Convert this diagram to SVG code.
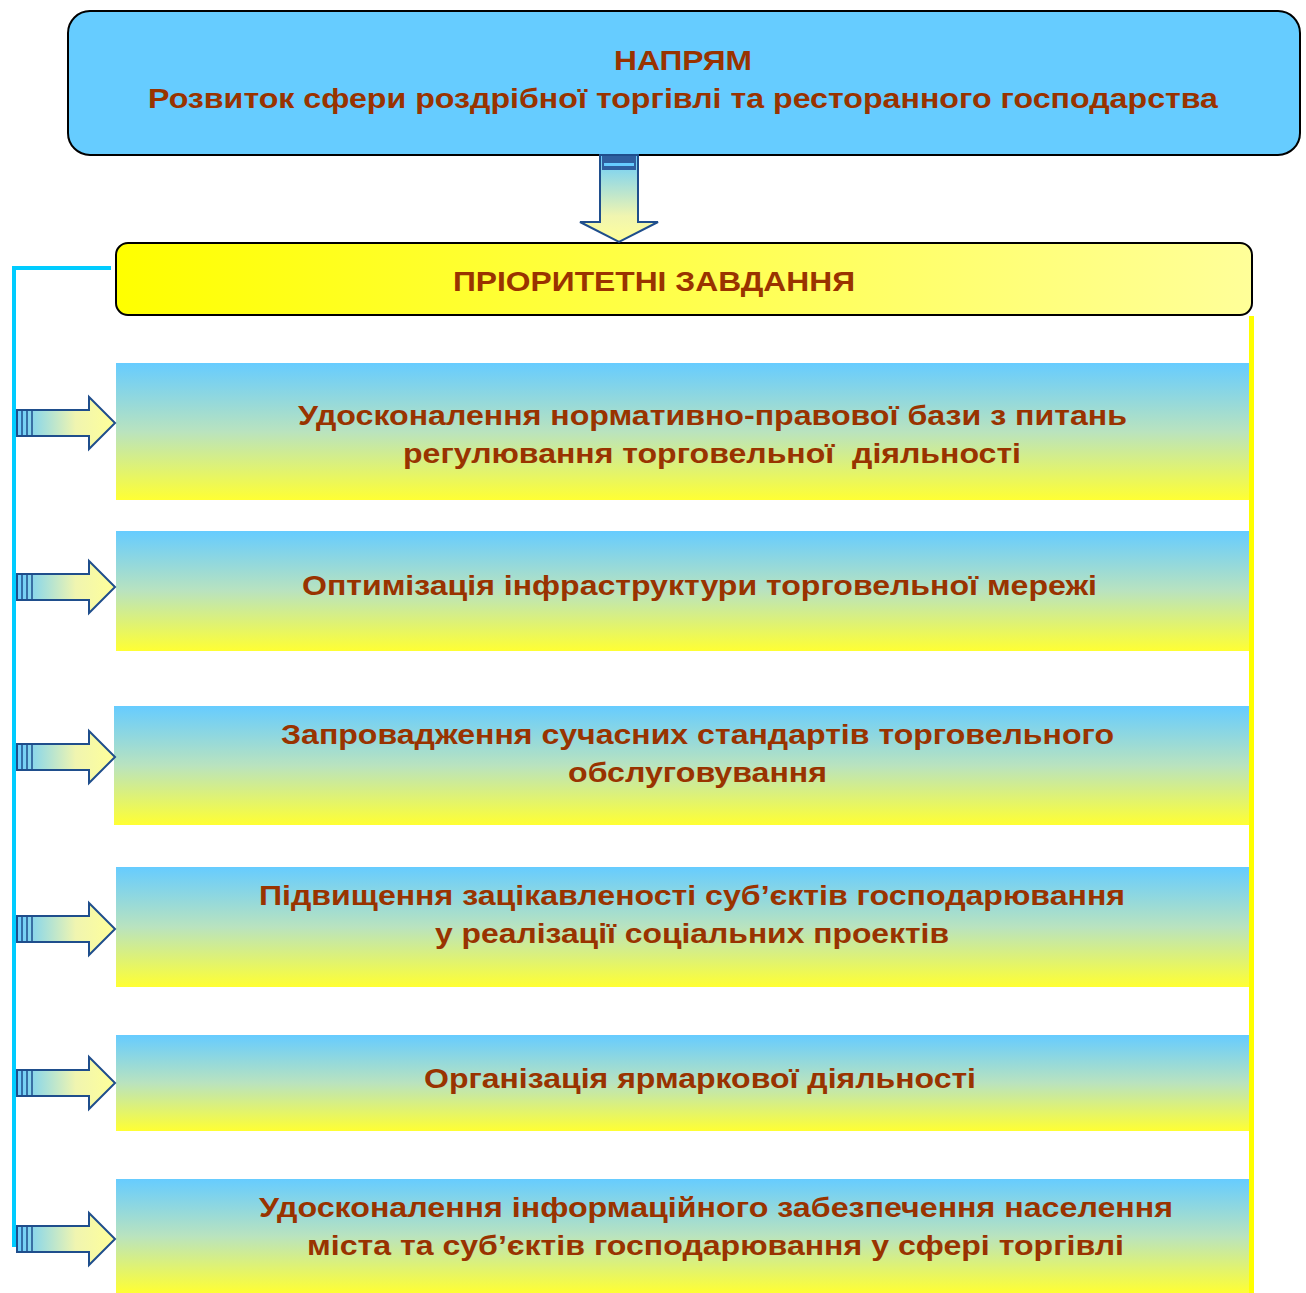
<svg xmlns="http://www.w3.org/2000/svg" width="1306" height="1293" viewBox="0 0 1306 1293">
<defs>
<linearGradient id="gTask" x1="0" y1="0" x2="0" y2="1">
<stop offset="0" stop-color="#66CCFF"/>
<stop offset="0.5" stop-color="#B9E3BF"/>
<stop offset="1" stop-color="#FFFF33"/>
</linearGradient>
<linearGradient id="gPri" x1="0" y1="0" x2="1" y2="0">
<stop offset="0" stop-color="#FFFF00"/>
<stop offset="1" stop-color="#FFFF99"/>
</linearGradient>
<linearGradient id="gArrH" x1="0" y1="0" x2="1" y2="0">
<stop offset="0" stop-color="#66CCFF"/>
<stop offset="0.6" stop-color="#F0F5B0"/>
<stop offset="1" stop-color="#FFFF99"/>
</linearGradient>
<linearGradient id="gArrV" x1="0" y1="0" x2="0" y2="1">
<stop offset="0" stop-color="#66CCFF"/>
<stop offset="0.7" stop-color="#F0F5B0"/>
<stop offset="1" stop-color="#FFFF99"/>
</linearGradient>
<g id="rarrow">
<path d="M17,-13 H89 V-26 L115,0 L89,26 V13 H17 Z" fill="url(#gArrH)" stroke="#1F4E8C" stroke-width="2" stroke-linejoin="miter"/>
<line x1="22" y1="-13" x2="22" y2="13" stroke="#1F4E8C" stroke-width="1.5"/>
<line x1="27" y1="-13" x2="27" y2="13" stroke="#1F4E8C" stroke-width="1.5"/>
<line x1="32" y1="-13" x2="32" y2="13" stroke="#1F4E8C" stroke-width="1.5"/>
</g>
</defs>
<style>
text{font-family:"Liberation Sans",Arial,sans-serif;font-weight:bold;fill:#993300;text-anchor:middle;font-size:28px}
.task{fill:url(#gTask)}
</style>
<rect width="1306" height="1293" fill="#FFFFFF"/>

<g id="napryam">
<rect x="68" y="11" width="1232" height="144" rx="22" fill="#66CCFF" stroke="#000" stroke-width="2"/>
<text x="683" y="70" textLength="138" lengthAdjust="spacingAndGlyphs">НАПРЯМ</text>
<text x="683" y="108" textLength="1070" lengthAdjust="spacingAndGlyphs">Розвиток сфери роздрібної торгівлі та ресторанного господарства</text>
</g>

<g id="priority">
<rect x="116" y="243" width="1136" height="72" rx="12" fill="url(#gPri)" stroke="#000" stroke-width="2"/>
<text x="654" y="291" textLength="402" lengthAdjust="spacingAndGlyphs">ПРІОРИТЕТНІ ЗАВДАННЯ</text>
</g>

<g id="task1">
<rect class="task" x="116" y="363" width="1135" height="137"/>
<text x="712.5" y="425" textLength="829" lengthAdjust="spacingAndGlyphs">Удосконалення нормативно-правової бази з питань</text>
<text x="712" y="463" textLength="618" lengthAdjust="spacingAndGlyphs" xml:space="preserve">регулювання торговельної  діяльності</text>
</g>
<g id="task2">
<rect class="task" x="116" y="531" width="1135" height="120"/>
<text x="699.5" y="595" textLength="795" lengthAdjust="spacingAndGlyphs">Оптимізація інфраструктури торговельної мережі</text>
</g>
<g id="task3">
<rect class="task" x="114" y="706" width="1137" height="119"/>
<text x="697.5" y="744" textLength="833" lengthAdjust="spacingAndGlyphs">Запровадження сучасних стандартів торговельного</text>
<text x="697.5" y="782" textLength="259" lengthAdjust="spacingAndGlyphs">обслуговування</text>
</g>
<g id="task4">
<rect class="task" x="116" y="867" width="1135" height="120"/>
<text x="692" y="905" textLength="866" lengthAdjust="spacingAndGlyphs">Підвищення зацікавленості суб’єктів господарювання</text>
<text x="692" y="943" textLength="514" lengthAdjust="spacingAndGlyphs">у реалізації соціальних проектів</text>
</g>
<g id="task5">
<rect class="task" x="116" y="1035" width="1135" height="96"/>
<text x="700" y="1088" textLength="552" lengthAdjust="spacingAndGlyphs">Організація ярмаркової діяльності</text>
</g>
<g id="task6">
<rect class="task" x="116" y="1179" width="1135" height="114"/>
<text x="716" y="1217" textLength="914" lengthAdjust="spacingAndGlyphs">Удосконалення інформаційного забезпечення населення</text>
<text x="715.5" y="1255" textLength="817" lengthAdjust="spacingAndGlyphs">міста та суб’єктів господарювання у сфері торгівлі</text>
</g>

<g id="connectors">
<polyline points="111,268 14,268 14,1247" fill="none" stroke="#00CCFF" stroke-width="4"/>
<line x1="1251.5" y1="316" x2="1251.5" y2="1293" stroke="#FFFF00" stroke-width="5"/>
<g id="down-arrow">
<path d="M600,155 H638 V222 H658 L619,242 L580,222 H600 Z" fill="url(#gArrV)" stroke="#1F4E8C" stroke-width="2"/>
<rect x="602" y="156" width="34" height="14" fill="#2F5F9F"/>
<rect x="604" y="163" width="30" height="3" fill="#66CCFF"/>
</g>
<use href="#rarrow" y="423"/>
<use href="#rarrow" y="587"/>
<use href="#rarrow" y="757"/>
<use href="#rarrow" y="929"/>
<use href="#rarrow" y="1083"/>
<use href="#rarrow" y="1239"/>
</g>
</svg>
